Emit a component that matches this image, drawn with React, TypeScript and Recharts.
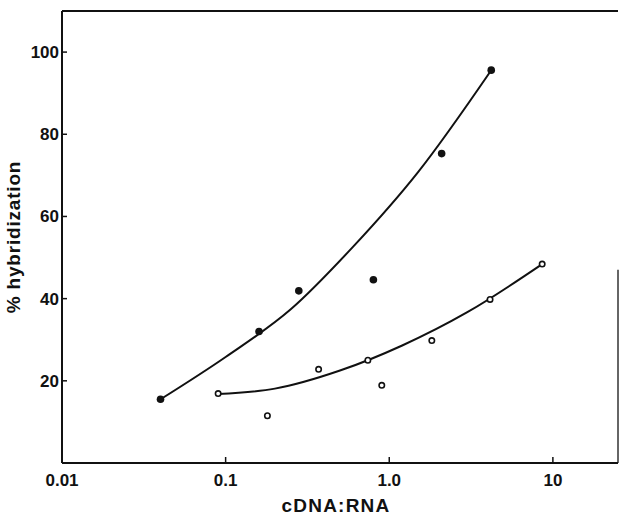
import {
  ComposedChart,
  Line,
  Scatter,
  XAxis,
  YAxis,
  ReferenceLine,
} from "recharts";

// cDNA:RNA ratio vs % hybridization
const filledRatio = [0.04, 0.16, 0.28, 0.8, 2.09, 4.2];
const filledHyb = [15.5, 32.0, 41.9, 44.6, 75.3, 95.6];

const openRatio = [0.09, 0.18, 0.37, 0.74, 0.9, 1.82, 4.13, 8.6];
const openHyb = [16.9, 11.5, 22.8, 25.0, 18.9, 29.8, 39.8, 48.4];

// points
const upperCurveRatio = [0.04, 0.1, 0.25, 0.6, 1.5, 4.2];
const upperCurveHyb = [15.5, 25.8, 37.4, 52.6, 70.8, 95.6];

const lowerCurveRatio = [0.09, 0.2, 0.5, 1.2, 3.0, 8.6];
const lowerCurveHyb = [16.8, 18.1, 22.5, 28.6, 36.7, 48.4];

const xTicks = [0.01, 0.1, 1, 10];
const yTicks = [20, 40, 60, 80, 100];
const xDomain = [0.01, 25];
const yDomain = [0, 110];

const zip = (xs: number[], ys: number[]) => xs.map((x, i) => ({ x, y: ys[i] }));

const filled = zip(filledRatio, filledHyb);
const open = zip(openRatio, openHyb);
const upperCurve = zip(upperCurveRatio, upperCurveHyb);
const lowerCurve = zip(lowerCurveRatio, lowerCurveHyb);

const font = "'Liberation Sans', Arial, Helvetica, sans-serif";
const tickStyle = { fontSize: 17, fontWeight: 700, fill: "#111", fontFamily: font };

function OpenDot({ cx, cy }: { cx?: number; cy?: number }) {
  return <circle cx={cx} cy={cy} r={2.7} fill="#fff" stroke="#111" strokeWidth={1.6} />;
}

function FilledDot({ cx, cy }: { cx?: number; cy?: number }) {
  return <circle cx={cx} cy={cy} r={3.8} fill="#111" />;
}

export default function App() {
  return (
    <div style={{ position: "absolute", left: 0, top: 0, background: "#fff" }}>
      <ComposedChart width={621} height={515} margin={{ top: 11, right: 3, bottom: 0, left: 0 }}>
        <XAxis
          dataKey="x"
          type="number"
          scale="log"
          domain={xDomain}
          ticks={xTicks}
          allowDataOverflow
          height={52}
          tickFormatter={(v: number) => (v === 1 ? "1.0" : String(v))}
          tick={tickStyle}
          tickSize={-6}
          tickMargin={17}
          axisLine={{ stroke: "#111", strokeWidth: 2 }}
          tickLine={{ stroke: "#111", strokeWidth: 1.5 }}
          label={{
            content: ({ viewBox }: any) => (
              <text
                x={viewBox.x + viewBox.width / 2 - 4}
                y={viewBox.y + 49}
                textAnchor="middle"
                style={{ fontSize: 19, fontWeight: 700, fontFamily: font, letterSpacing: 1.2, fill: "#111" }}
              >
                cDNA:RNA
              </text>
            ),
          }}
        />
        <YAxis
          type="number"
          domain={yDomain}
          ticks={yTicks}
          width={62}
          tick={tickStyle}
          tickSize={-5}
          tickMargin={8}
          axisLine={{ stroke: "#111", strokeWidth: 2 }}
          tickLine={{ stroke: "#111", strokeWidth: 1.5 }}
          label={{
            content: ({ viewBox }: any) => {
              const cx = viewBox.x + 13;
              const cy = viewBox.y + viewBox.height / 2;
              return (
                <text
                  x={cx}
                  y={cy}
                  textAnchor="middle"
                  dominantBaseline="central"
                  transform={`rotate(-90, ${cx}, ${cy})`}
                  style={{ fontSize: 19, fontWeight: 700, fontFamily: font, letterSpacing: 0.8, fill: "#111" }}
                >
                  % hybridization
                </text>
              );
            },
          }}
        />
        <ReferenceLine y={yDomain[1]} stroke="#111" strokeWidth={2} ifOverflow="extendDomain" />
        <ReferenceLine
          segment={[
            { x: xDomain[1], y: 0 },
            { x: xDomain[1], y: 47 },
          ]}
          stroke="#333"
          strokeWidth={1.5}
        />
        <Line
          data={upperCurve}
          dataKey="y"
          type="monotone"
          stroke="#111"
          strokeWidth={2}
          dot={false}
          activeDot={false}
          isAnimationActive={false}
        />
        <Line
          data={lowerCurve}
          dataKey="y"
          type="monotone"
          stroke="#111"
          strokeWidth={2}
          dot={false}
          activeDot={false}
          isAnimationActive={false}
        />
        <Scatter data={filled} dataKey="y" shape={<FilledDot />} isAnimationActive={false} />
        <Scatter data={open} dataKey="y" shape={<OpenDot />} isAnimationActive={false} />
      </ComposedChart>
    </div>
  );
}
